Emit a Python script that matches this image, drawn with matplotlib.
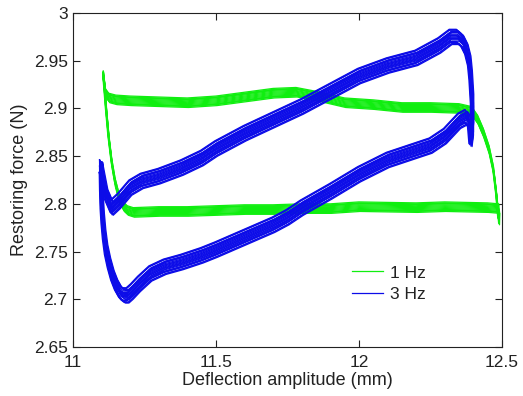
import matplotlib
matplotlib.use("Agg")
import matplotlib.pyplot as plt
from matplotlib.ticker import FuncFormatter

plt.rcParams['font.family'] = ['Liberation Sans', 'DejaVu Sans']

# 1 Hz loop (deflection mm, force N)
green_x = [11.106, 11.113, 11.125, 11.15, 11.2, 11.3, 11.4, 11.5, 11.6, 11.7, 11.78,
           11.85, 11.95, 12.05, 12.15, 12.25, 12.35, 12.394, 12.415, 12.435, 12.455,
           12.47, 12.48, 12.488,
           12.489, 12.45, 12.3, 12.2, 12.0, 11.9, 11.8, 11.7, 11.6, 11.5, 11.4, 11.3,
           11.211, 11.19, 11.176, 11.16, 11.147, 11.135, 11.124, 11.115, 11.106]
green_y = [2.934, 2.916, 2.911, 2.909, 2.908, 2.907, 2.906, 2.908, 2.912, 2.916, 2.917,
           2.913, 2.906, 2.904, 2.901, 2.901, 2.9, 2.897, 2.888, 2.874, 2.856,
           2.835, 2.81, 2.783,
           2.795, 2.796, 2.797, 2.796, 2.797, 2.795, 2.795, 2.794, 2.794, 2.793, 2.792, 2.792,
           2.791, 2.793, 2.797, 2.807, 2.822, 2.843, 2.87, 2.9, 2.934]

# 3 Hz loop
blue_x = [11.097, 11.098, 11.100, 11.103, 11.108, 11.115, 11.125, 11.137, 11.15, 11.165,
          11.178, 11.19, 11.205, 11.23, 11.27, 11.32,
          11.38, 11.45, 11.5, 11.6, 11.7, 11.75, 11.8, 11.9, 12.0, 12.1, 12.2, 12.25,
          12.3, 12.35, 12.375, 12.385, 12.39, 12.395, 12.395, 12.39, 12.385, 12.375, 12.36,
          12.345, 12.32, 12.28, 12.2, 12.1, 12.0, 11.9, 11.8, 11.7, 11.6, 11.5, 11.45, 11.38,
          11.3, 11.24, 11.2, 11.16, 11.135, 11.115, 11.097]
blue_y = [2.838, 2.82, 2.80, 2.785, 2.768, 2.752, 2.738, 2.725, 2.715, 2.707,
          2.704, 2.704, 2.708, 2.716, 2.727, 2.734,
          2.739, 2.746, 2.752, 2.765, 2.778, 2.786, 2.796, 2.813, 2.831, 2.846, 2.856, 2.861,
          2.871, 2.887, 2.891, 2.886, 2.868, 2.88, 2.91, 2.935, 2.95, 2.962, 2.971,
          2.975, 2.975, 2.966, 2.953, 2.945, 2.934, 2.918, 2.902, 2.888, 2.874, 2.858, 2.848, 2.838,
          2.829, 2.824, 2.817, 2.803, 2.796, 2.81, 2.838]

# cycle-to-cycle spread of the repeated loops (dx mm, dy N)
green_dx = [0.0, 0.002, -0.002, 0.001, -0.001, 0.003, -0.003, 0.0, 0.002, -0.001,
            0.001, -0.002, 0.0]
green_dy = [0.0, -0.004, 0.003, -0.002, 0.005, -0.005, 0.002, 0.004, -0.003, 0.001,
            -0.001, 0.0035, -0.0035]
blue_dx = [0.0, 0.004, -0.004, 0.002, -0.002, 0.005, -0.005, 0.001, -0.001, 0.006,
           -0.006, 0.003, -0.003, 0.0, 0.004, -0.004, 0.001, -0.001, 0.005, -0.005, 0.0,
           0.002, -0.002]
blue_dy = [0.0, -0.007, 0.007, -0.003, 0.003, -0.008, 0.008, 0.001, -0.001, 0.005,
           -0.005, 0.006, -0.006, 0.002, -0.002, 0.0075, -0.0075, 0.0045, -0.0045,
           0.0015, -0.0015, 0.0055, -0.0055]

xticks = [11, 11.5, 12, 12.5]
yticks = [2.65, 2.7, 2.75, 2.8, 2.85, 2.9, 2.95, 3]

green_c = '#10ee10'
blue_c = '#0c0ce8'
ink = '#222222'

fig = plt.figure(figsize=(5.23, 3.96), dpi=100)
ax = fig.add_axes([0.140, 0.124, 0.820, 0.843])

for i, (dx, dy) in enumerate(zip(green_dx, green_dy)):
    ax.plot([v + dx for v in green_x], [v + dy for v in green_y], color=green_c,
            lw=0.9, label='1 Hz' if i == 0 else None)
for i, (dx, dy) in enumerate(zip(blue_dx, blue_dy)):
    ax.plot([v + dx for v in blue_x], [v + dy for v in blue_y], color=blue_c,
            lw=0.9, label='3 Hz' if i == 0 else None)

ax.set_xlim(11, 12.5)
ax.set_ylim(2.65, 3)
ax.set_xticks(xticks)
ax.set_yticks(yticks)
ax.xaxis.set_major_formatter(FuncFormatter(lambda v, p: '%g' % v))
ax.yaxis.set_major_formatter(FuncFormatter(lambda v, p: '%g' % v))
ax.tick_params(direction='in', top=True, right=True, length=5, labelsize=12.5,
               colors=ink, width=0.8)
ax.tick_params(axis='x', pad=6)
ax.tick_params(axis='y', pad=4)
for s in ax.spines.values():
    s.set_linewidth(0.8)
    s.set_color(ink)
ax.set_xlabel('Deflection amplitude (mm)', fontsize=13, labelpad=1, color=ink)
ax.set_ylabel('Restoring force (N)', fontsize=13, labelpad=4, color=ink)

leg = ax.legend(loc='center left', bbox_to_anchor=(0.650, 0.189), frameon=False,
                fontsize=12.5, handlelength=1.8, handletextpad=0.4, labelspacing=0.38,
                borderpad=0, borderaxespad=0)
for t in leg.get_texts():
    t.set_color(ink)

fig.savefig('out.png', dpi=100)
